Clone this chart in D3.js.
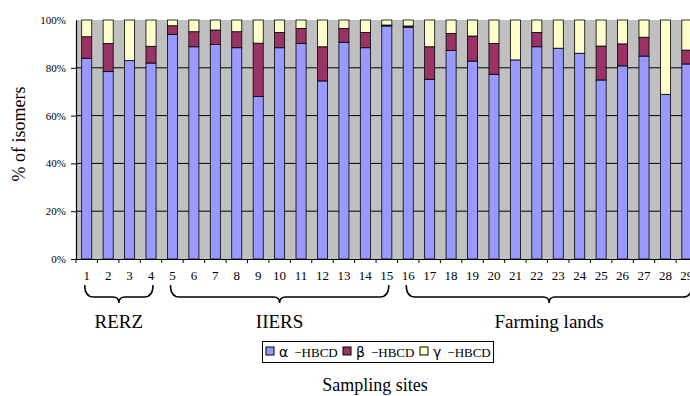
<!DOCTYPE html>
<html><head><meta charset="utf-8">
<script src="https://cdn.jsdelivr.net/npm/d3@7"></script>
<style>body{margin:0;background:#fff;overflow:hidden}svg{display:block}text{font-family:'Liberation Serif','DejaVu Serif',serif}</style>
</head><body><svg id="c" width="690" height="396"></svg>
<script>
const sites = d3.range(1, 30).map(String);
const alpha = [84,78.4,83,82,94,88.8,89.8,88.4,68,88.4,90.2,74.5,90.7,88.4,97.5,97,75.2,87.2,82.8,77.3,83.3,88.8,88.2,86.1,74.9,80.8,84.9,68.9,81.6];
const beta  = [9,11.8,0,7,3.6,6.3,6,6.7,22.3,6.4,6.3,14.3,5.8,6.4,0.4,0.5,13.6,7.2,10.5,12.9,0,6,0,0,14.2,9.2,7.9,0,5.8];
const gamma = alpha.map((a,i)=>100-a-beta[i]);
const seriesNames = ["α","β","γ"];
const seriesColors = ["#9999ff","#993366","#ffffcc"];
const yTicks = [0,20,40,60,80,100];
const groups = [{name:"RERZ",from:"1",to:"4"},{name:"IIERS",from:"5",to:"15"},{name:"Farming lands",from:"16",to:"29",x1:692}];
const SERIF = "'Liberation Serif','DejaVu Serif',serif";

const svg = d3.select("#c");
const L=76, T=20, B=259;
const x = d3.scaleBand().domain(sites).range([L, L+29*21.434]).paddingInner(0.53).paddingOuter(0.265);
const y = d3.scaleLinear().domain([0,100]).range([B,T]);

svg.append("rect").attr("x",L).attr("y",T).attr("width",29*21.434).attr("height",B-T).attr("fill","#c0c0c0");
svg.append("g").selectAll("line").data(yTicks.filter(t=>t>0&&t<100)).join("line")
  .attr("x1",L).attr("x2",L+29*21.434).attr("y1",d=>y(d)).attr("y2",d=>y(d)).attr("stroke","#000").attr("stroke-width",1);

const rows = sites.map((s,i)=>({site:s, α:alpha[i], β:beta[i], γ:gamma[i]}));
const stack = d3.stack().keys(seriesNames)(rows);
svg.append("g").selectAll("g").data(stack).join("g").attr("fill",(d,i)=>seriesColors[i])
  .selectAll("rect").data(d=>d.filter(p=>p[1]-p[0]>0.01)).join("rect")
  .attr("x",d=>x(d.data.site)).attr("width",x.bandwidth())
  .attr("y",d=>y(d[1])).attr("height",d=>y(d[0])-y(d[1]))
  .attr("stroke","#000").attr("stroke-width",0.8);

// axes
const ya = svg.append("g").attr("transform",`translate(${L},0)`)
  .call(d3.axisLeft(y).tickValues(yTicks).tickFormat(d=>d+"%").tickSize(5).tickSizeOuter(0));
ya.attr("font-family",SERIF);
ya.select(".domain").attr("stroke","#000").attr("stroke-width",1.2);
ya.selectAll("text").style("font-family",SERIF).attr("font-size",11).attr("fill","#000").attr("x",-10);
ya.selectAll(".tick").filter(d=>d===100).select("line").remove();

const xa = svg.append("g").attr("transform",`translate(0,${B})`)
  .call(d3.axisBottom(x).tickSize(0).tickPadding(12));
xa.attr("font-family",SERIF);
xa.select(".domain").attr("stroke","#000").attr("stroke-width",1.2);
xa.selectAll("text").style("font-family",SERIF).attr("font-size",13).attr("fill","#000");
svg.append("g").selectAll("line").data(sites).join("line")
  .attr("x1",d=>x(d)-x.step()*0.265).attr("x2",d=>x(d)-x.step()*0.265)
  .attr("y1",B).attr("y2",B+4).attr("stroke","#000");

svg.append("text").attr("transform","translate(25,134) rotate(-90)").attr("text-anchor","middle")
  .style("font-family",SERIF).attr("font-size",18).text("% of isomers");

// braces
function brace(x0,x1,yt){
  const cx=(x0+x1)/2, h=12, r=6;
  return `M${x0},${yt} Q${x0},${yt+h} ${x0+r*1.5},${yt+h} L${cx-r},${yt+h} Q${cx},${yt+h} ${cx},${yt+h+6} Q${cx},${yt+h} ${cx+r},${yt+h} L${x1-r*1.5},${yt+h} Q${x1},${yt+h} ${x1},${yt}`;
}
groups.forEach(g=>{
  const x0 = x(g.from)+x.bandwidth()/2 - 2;
  const x1 = g.x1 || (x(g.to)+x.bandwidth()/2 + 2);
  svg.append("path").attr("d",brace(x0,x1,285)).attr("fill","none").attr("stroke","#000").attr("stroke-width",1.5);
  svg.append("text").attr("x",(x0+x1)/2).attr("y",328).attr("text-anchor","middle")
    .style("font-family",SERIF).attr("font-size",19).text(g.name);
});

// legend
const lg = svg.append("g");
lg.append("rect").attr("x",262.5).attr("y",341.5).attr("width",231).attr("height",21).attr("fill","#fff").attr("stroke","#000");
const lx = [266, 343, 420];
seriesNames.forEach((n,i)=>{
  lg.append("rect").attr("x",lx[i]).attr("y",347).attr("width",8).attr("height",8).attr("fill",seriesColors[i]).attr("stroke","#000");
  const t = lg.append("text").attr("x",lx[i]+13).attr("y",357).attr("font-size",13);
  t.append("tspan").style("font-family","'DejaVu Sans',sans-serif").attr("font-size",14).text(n);
  t.append("tspan").style("font-family",SERIF).attr("dx",6).text("−HBCD");
});

svg.append("text").attr("x",375).attr("y",391).attr("text-anchor","middle")
  .style("font-family",SERIF).attr("font-size",18).text("Sampling sites");
</script></body></html>
